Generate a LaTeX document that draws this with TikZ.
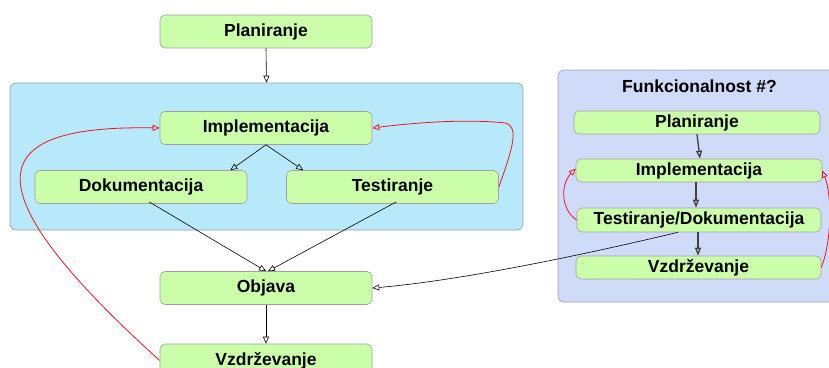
\documentclass[tikz,border=0pt]{standalone}
\usepackage{fontspec}
\setmainfont{Liberation Sans}
\usetikzlibrary{arrows.meta,calc}
\definecolor{boxgreen}{RGB}{204,255,170}
\definecolor{boxline}{RGB}{160,160,160}
\definecolor{groupblue}{RGB}{184,233,250}
\definecolor{groupviolet}{RGB}{208,219,249}
\definecolor{loopred}{RGB}{235,20,30}
\tikzset{
  stage/.style={draw=boxline, fill=boxgreen, rounded corners=5pt, line width=0.6pt,
    inner sep=0pt, font=\fontsize{17.5}{20}\selectfont\bfseries},
  wide/.style={stage, minimum width=212pt, minimum height=33pt},
  narrow/.style={stage, minimum width=246pt, minimum height=23pt},
  group/.style={draw=boxline, rounded corners=6pt, line width=0.6pt, inner sep=0pt},
  tip/.style={-{Triangle[open,length=7pt,width=6pt]}},
  flow/.style={draw=black, line width=0.6pt, tip},
  flowbold/.style={draw=black!75, line width=1.3pt, -{Triangle[open,length=8pt,width=6pt]}},
  loop/.style={draw=loopred, line width=0.8pt, tip},
}
\begin{document}
\begin{tikzpicture}[x=1pt,y=-1pt]
\useasboundingbox (0,0) rectangle (829,367);

% grouping panels
\node[group, fill=groupblue, minimum width=513pt, minimum height=147pt] (grp) at (266.5,156.5) {};
\node[group, fill=groupviolet, minimum width=280pt, minimum height=232pt] (feat) at (698,186) {};
\node[font=\fontsize{17.5}{20}\selectfont\bfseries] (title) at (699.5,86) {Funkcionalnost \#?};

% main process
\node[wide] (plan1) at (266,31.5) {Planiranje};
\node[wide] (impl1) at (266,128) {Implementacija};
\node[wide] (dok) at (141,187) {Dokumentacija};
\node[wide] (test) at (392.5,187) {Testiranje};
\node[wide] (obj) at (266,288) {Objava};
\node[wide] (vzd1) at (266,360.5) {Vzdrževanje};

% feature process
\node[narrow] (plan2) at (697,122.5) {Planiranje};
\node[narrow] (impl2) at (699,170.5) {Implementacija};
\node[narrow, minimum width=244pt, minimum height=24pt] (td) at (699,220) {Testiranje/Dokumentacija};
\node[narrow, minimum width=245pt] (vzd2) at (698.5,267.5) {Vzdrževanje};

% main flow
\draw[flow] (plan1.south) -- (grp.north);
\draw[flow] (impl1.south) -- ([xshift=-17pt]dok.north east);
\draw[flow] (impl1.south) -- ([xshift=17pt]test.north west);
\draw[flow] ([xshift=8pt,yshift=2pt]dok.south) -- (obj.north);
\draw[flow] ([xshift=4pt,yshift=2pt]test.south) -- ([xshift=2pt]obj.north);
\draw[flow] (obj.south) -- (vzd1.north);

% feature flow
\draw[flowbold] (plan2.south) -- ([xshift=1pt]impl2.north);
\draw[flowbold] ([xshift=-3pt]impl2.south) -- ([xshift=-3pt]td.north);
\draw[flowbold] ([xshift=-1pt]td.south) -- ([xshift=-0.5pt]vzd2.north);
\draw[flow] ([xshift=-21pt]td.south) .. controls (570,258) and (455,281) .. (obj.east);

% feedback loops
\draw[loop] (vzd1.west) .. controls (-40,180) and (-10,125) .. (impl1.west);
\draw[loop] (test.east) .. controls (512,150) and (520,126) .. (505,123)
  .. controls (470,119) and (420,122) .. (impl1.east);
\draw[loop] (td.west) .. controls (561,210) and (560,185) .. ([yshift=2pt]impl2.west);
\draw[loop] (vzd2.east) .. controls (832,240) and (832,195) .. (impl2.east);
\end{tikzpicture}
\end{document}
